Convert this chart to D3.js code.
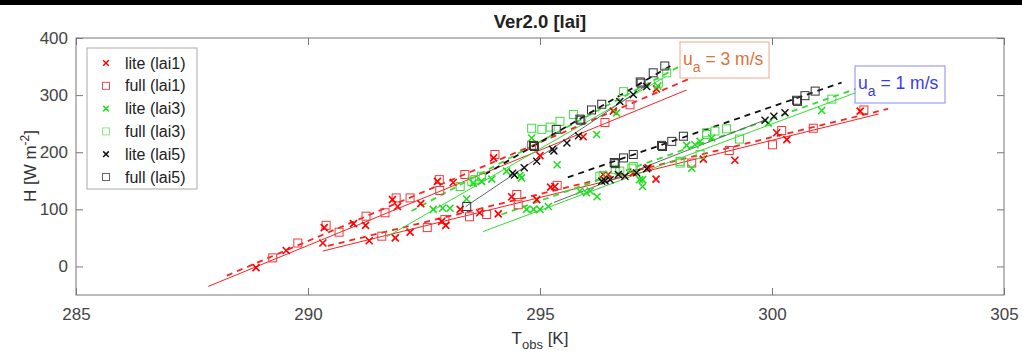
<!DOCTYPE html>
<html><head><meta charset="utf-8">
<script src="https://cdn.jsdelivr.net/npm/d3@7"></script>
<style>
html,body{margin:0;padding:0;background:#fff;}
svg{display:block;font-family:"Liberation Sans",Arial,Helvetica,sans-serif;}
</style></head>
<body>
<svg id="chart" width="1022" height="351"></svg>
<script>
// ---------- data (T_obs [K], H [W m^-2]) ----------
const xTicks = [285, 290, 295, 300, 305];
const yTicks = [0, 100, 200, 300, 400];
const titleText = "Ver2.0 [lai]";
const legendLabels = ["lite (lai1)", "full (lai1)", "lite (lai3)", "full (lai3)", "lite (lai5)", "full (lai5)"];

const liteLai1 = [
  [288.88,-2],[289.53,28],[290.32,41],[290.35,68],[290.98,75],[291.24,72],[291.82,117],[291.93,105],
  [292.43,110],[292.79,149],[293.13,147],[294.0,190],[295.0,194],[295.93,227],[296.58,272],[297.51,311],
  [291.32,45],[291.88,50],[292.2,60],[292.88,79],[292.97,72],[293.28,100],[293.7,94],[294.1,92],
  [294.39,122],[294.93,117],[295.23,139],[295.32,140],[296.36,161],[296.47,161],[297.01,164],[297.33,173],
  [297.5,153],[298.52,188],[299.2,186],[300.1,234],[300.32,222],[301.9,272]
];
const fullLai1 = [
  [289.24,15],[289.78,41],[290.39,72],[290.67,60],[291.25,88],[291.66,94],[291.9,120],[292.2,120],
  [292.83,152],[292.84,133],[293.38,161],[294.03,196],[294.82,212],[296.4,252],[296.94,283],
  [291.59,53],[292.57,68],[292.95,82],[293.48,87],[293.85,91],[294.5,126],[294.53,108],[295.37,142],
  [298.27,181],[299.08,203],[300.01,213],[300.21,238],[300.89,242],[301.98,274]
];
const liteLai3 = [
  [292.7,100],[292.9,102],[293.06,102],[293.42,118],[293.56,146],[293.74,149],[293.96,153],[294.28,167],
  [294.57,159],[294.6,155],[294.82,225],[295.37,178],[296.22,231],[296.65,269],[297.54,316],
  [294.71,100],[294.86,100],[295.0,100],[295.18,105],[295.86,132],[296.0,129],[296.08,132],[296.23,122],
  [297.15,152],[297.21,140],[297.21,152],[298.16,212],[298.27,172],[298.34,213],[298.45,219],[298.7,225],
  [299.92,251],[301.07,273]
];
const fullLai3 = [
  [293.28,140],[293.53,149],[293.6,152],[293.74,158],[294.82,242],[295.04,240],[295.22,244],[295.43,254],
  [295.72,266],[296.8,306],[297.55,321],[297.73,339],
  [296.29,158],[296.36,159],[296.62,170],[296.72,167],[296.98,172],[297.01,175],[298.02,181],[298.02,184],
  [298.45,196],[298.59,231],[298.59,234],[298.77,237],[299.02,241],[299.3,223],[301.29,293]
];
const liteLai5 = [
  [294.41,163],[294.45,160],[294.66,173],[294.93,184],[295.27,205],[295.3,202],[295.58,216],[295.83,229],
  [296.72,289],[297.01,301],[297.3,315],
  [296.33,149],[296.4,150],[296.51,152],[296.69,161],[296.83,158],[297.08,164],[297.3,171],
  [299.85,256],[300.04,263],[300.28,269]
];
const fullLai5 = [
  [293.42,105],[294.86,212],[294.88,210],[295.35,240],[295.86,258],[295.88,256],[296.11,274],[296.33,284],
  [297.16,323],[297.18,321],[297.44,339],[297.69,351],
  [296.6,182],[296.62,180],[296.8,190],[297.01,196],[297.62,212],[297.64,210],[297.84,219],[298.09,228],
  [300.53,291],[300.55,289],[300.71,299],[300.93,307]
];

// fitted lines: [T1, H1, T2, H2]
const fitLai1Lite = [[287.85,-35,298.16,309],[290.32,27,302.3,267]];
const fitLai1Full = [[288.25,-16,298.23,329],[290.43,36,302.5,276]];
const fitLai3Lite = [[291.7,52,297.7,332],[293.77,61,301.8,304]];
const fitLai3Full = [[292.23,97,298.0,350],[294.17,91,301.8,311]];
const fitLai5Lite = [[293.4,105,297.4,323],[295.3,112,299.9,258]];
const fitLai5Full = [[293.81,161,297.85,353],[295.6,156,301.5,322]];

// ---------- drawing ----------
const svg = d3.select("#chart");
const x = d3.scaleLinear().domain([285, 305]).range([76, 1004]);
const y = d3.scaleLinear().domain([-50, 400]).range([295, 38]);

svg.append("rect").attr("x",0).attr("y",0).attr("width",1022).attr("height",5).attr("fill","#000");

const axisColor = "#777";
svg.append("rect").attr("x", x(285)).attr("y", y(400))
  .attr("width", x(305)-x(285)).attr("height", y(-50)-y(400))
  .attr("fill","none").attr("stroke",axisColor).attr("stroke-width",1);

const gx = svg.append("g").attr("transform",`translate(0,${y(-50)})`)
  .call(d3.axisBottom(x).tickValues(xTicks).tickSize(-7).tickPadding(13).tickFormat(d3.format("d")));
const gxt = svg.append("g").attr("transform",`translate(0,${y(400)})`)
  .call(d3.axisTop(x).tickValues(xTicks).tickSize(-7).tickFormat(""));
const gy = svg.append("g").attr("transform",`translate(${x(285)},0)`)
  .call(d3.axisLeft(y).tickValues(yTicks).tickSize(-7).tickPadding(8).tickFormat(d3.format("d")));
const gyr = svg.append("g").attr("transform",`translate(${x(305)},0)`)
  .call(d3.axisRight(y).tickValues(yTicks).tickSize(-7).tickFormat(""));
[gx,gxt,gy,gyr].forEach(g=>{
  g.select(".domain").remove();
  g.selectAll(".tick line").attr("stroke",axisColor);
  g.selectAll(".tick text").attr("fill","#444").attr("font-size","17px")
   .attr("font-family","'Liberation Sans',Arial,sans-serif");
});

const clipId = "plotclip";
svg.append("clipPath").attr("id",clipId).append("rect")
  .attr("x",x(285)).attr("y",y(400)).attr("width",x(305)-x(285)).attr("height",y(-50)-y(400));
const linesG = svg.append("g").attr("clip-path",`url(#${clipId})`);
function drawFits(arr, color, width, dash){
  linesG.selectAll(null).data(arr).enter().append("line")
    .attr("x1",d=>x(d[0])).attr("y1",d=>y(d[1]))
    .attr("x2",d=>x(d[2])).attr("y2",d=>y(d[3]))
    .attr("stroke",color).attr("stroke-width",width)
    .attr("stroke-dasharray",dash);
}
drawFits(fitLai1Lite, "#ff2020", 1, null);
drawFits(fitLai1Full, "#ff2020", 1.8, "6,5");
drawFits(fitLai3Lite, "#33dd33", 1, null);
drawFits(fitLai3Full, "#33dd33", 1.8, "6,5");
drawFits(fitLai5Lite, "#555555", 0.9, null);
drawFits(fitLai5Full, "#111111", 1.8, "6,5");

const markG = svg.append("g").attr("clip-path",`url(#${clipId})`);
function crossPath(s){ return `M${-s},${-s}L${s},${s}M${-s},${s}L${s},${-s}`; }
function drawCross(g, data, color, s, w){
  g.selectAll(null).data(data).enter().append("path")
    .attr("transform",d=>`translate(${x(d[0])},${y(d[1])})`)
    .attr("d",crossPath(s)).attr("stroke",color).attr("stroke-width",w).attr("fill","none");
}
function drawSquare(g, data, color, s, w){
  g.selectAll(null).data(data).enter().append("rect")
    .attr("x",d=>x(d[0])-s).attr("y",d=>y(d[1])-s)
    .attr("width",2*s).attr("height",2*s)
    .attr("stroke",color).attr("stroke-width",w).attr("fill","none");
}
drawSquare(markG, fullLai1, "#ee3a3a", 4, 1);
drawCross(markG, liteLai1, "#ff0000", 3.5, 1.6);
drawSquare(markG, fullLai3, "#44dd44", 4, 1);
drawCross(markG, liteLai3, "#22dd22", 3.5, 1.6);
drawSquare(markG, fullLai5, "#333", 4, 1);
drawCross(markG, liteLai5, "#111", 3.5, 1.4);

// legend
const lg = svg.append("g");
lg.append("rect").attr("x",87).attr("y",48).attr("width",110).attr("height",141)
  .attr("fill","#fff").attr("stroke","#aaa").attr("stroke-width",1);
const legendStyle = [
  {type:"x", color:"#ff0000"},{type:"s", color:"#dd5555"},
  {type:"x", color:"#22dd22"},{type:"s", color:"#88ee88"},
  {type:"x", color:"#111"},{type:"s", color:"#666"}
];
legendLabels.forEach((lab,i)=>{
  const cy = 63 + i*22.8;
  const st = legendStyle[i];
  if(st.type==="x"){
    lg.append("path").attr("transform",`translate(106,${cy})`).attr("d",crossPath(2.8))
      .attr("stroke",st.color).attr("stroke-width",1.5);
  } else {
    lg.append("rect").attr("x",102.5).attr("y",cy-3.5).attr("width",7).attr("height",7)
      .attr("fill","none").attr("stroke",st.color).attr("stroke-width",1);
  }
  lg.append("text").attr("x",125).attr("y",cy+5.5).attr("font-size","16px").attr("fill","#222").text(lab);
});

// annotation boxes
function annot(bx, by, bw, bh, tx, ty, num, textColor, boxColor){
  svg.append("rect").attr("x",bx).attr("y",by).attr("width",bw).attr("height",bh)
    .attr("fill","none").attr("stroke",boxColor).attr("stroke-width",1);
  const t = svg.append("text").attr("x",tx).attr("y",ty).attr("font-size","17.5px").attr("fill",textColor);
  t.append("tspan").text("u");
  t.append("tspan").attr("dy",7).attr("font-size","14px").text("a");
  t.append("tspan").attr("dy",-7).text(` = ${num} m/s`);
}
annot(680, 42, 89, 36, 683, 65, 3, "#e0703c", "#eeaa88");
annot(855, 66, 90, 37, 858, 89, 1, "#3a3ae8", "#8a8aee");

svg.append("text").attr("x",540).attr("y",28).attr("text-anchor","middle")
  .attr("font-size","18.5px").attr("font-weight","bold").attr("fill","#222").text(titleText);

const xl = svg.append("text").attr("x",540).attr("y",344).attr("text-anchor","middle")
  .attr("font-size","17px").attr("fill","#333");
xl.append("tspan").text("T");
xl.append("tspan").attr("dy",5).attr("font-size","13px").text("obs");
xl.append("tspan").attr("dy",-5).text(" [K]");

const yl = svg.append("text").attr("transform","translate(36,166) rotate(-90)")
  .attr("text-anchor","middle").attr("font-size","17px").attr("fill","#333");
yl.append("tspan").text("H [W m");
yl.append("tspan").attr("dy",-7).attr("font-size","12px").text("-2");
yl.append("tspan").attr("dy",7).text("]");
</script>
</body></html>
